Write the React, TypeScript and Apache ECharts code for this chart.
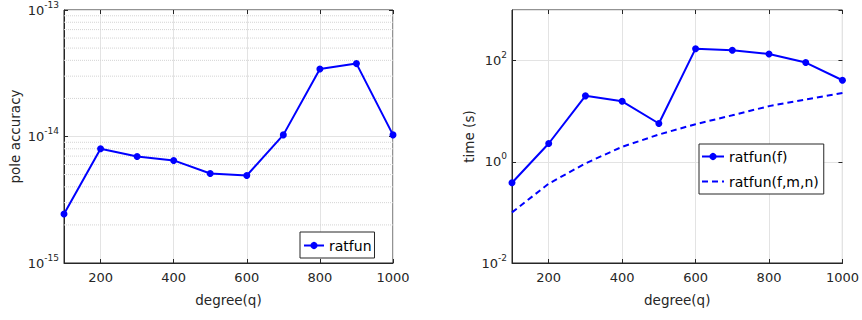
import React, { useEffect, useRef } from 'react';
import * as echarts from 'echarts';

// ---- data ----
const degrees = [100, 200, 300, 400, 500, 600, 700, 800, 900, 1000];
const poleAccuracy = [2.44e-15, 8.0e-15, 6.95e-15, 6.47e-15, 5.1e-15, 4.92e-15, 1.03e-14, 3.42e-14, 3.77e-14, 1.03e-14];
const timeRatfunF = [0.385, 2.3, 20.1, 15.7, 5.71, 172, 160, 135, 91.5, 40.9];
const timeRatfunFmn = [0.1, 0.37, 0.93, 1.98, 3.46, 5.54, 8.3, 12.6, 17, 23];
const xTickValues = [200, 400, 600, 800, 1000];
const leftMinorGrid = [2e-15, 3e-15, 4e-15, 5e-15, 6e-15, 7e-15, 8e-15, 9e-15, 2e-14, 3e-14, 4e-14, 5e-14, 6e-14, 7e-14, 8e-14, 9e-14];

const FONT = 'DejaVu Sans';
const TXT = '#262626';
const AX = '#262626';
const GRID = '#e3e3e3';
const BLUE = '#0000ff';

const zip = (xs: number[], ys: number[]) => xs.map((x, i) => [x, ys[i]]);

const powLabel = (v: number) => {
  const e = Math.round(Math.log10(v));
  return `{b|10}{s|${e}}`;
};
const richPow = {
  b: { fontSize: 13, fontFamily: FONT, color: TXT, lineHeight: 20 },
  s: { fontSize: 9, fontFamily: FONT, color: TXT, lineHeight: 9, verticalAlign: 'top' },
};

const nameStyle = { fontSize: 13.5, fontFamily: FONT, color: TXT };

function xAxisMain(gridIndex: number) {
  return {
    type: 'value', gridIndex, min: 100, max: 1000, position: 'bottom',
    name: 'degree(q)', nameLocation: 'middle', nameGap: 30, nameTextStyle: nameStyle,
    axisLine: { show: true, onZero: false, lineStyle: { color: AX, width: 1 } },
    axisTick: { show: true, inside: true, length: 4, customValues: xTickValues, lineStyle: { color: AX } },
    axisLabel: { customValues: xTickValues, color: TXT, fontSize: 13, fontFamily: FONT, margin: 8, formatter: (v: number) => String(v) },
    splitLine: { show: true, lineStyle: { color: GRID, width: 1 } },
  };
}
function xAxisTop(gridIndex: number) {
  return {
    type: 'value', gridIndex, min: 100, max: 1000, position: 'top',
    axisLine: { show: false, onZero: false },
    axisTick: { show: true, inside: true, length: 4, customValues: xTickValues, lineStyle: { color: AX } },
    axisLabel: { show: false },
    splitLine: { show: false },
  };
}

// minor grid lines on the left log axis, drawn as a broken line through the axes' scales
const minorGridData: any[] = [];
leftMinorGrid.forEach((v) => {
  minorGridData.push([100, v], [1000, v], [1000, '-']);
});

export default function App() {
  const ref = useRef<HTMLDivElement>(null);
  useEffect(() => {
    document.body.style.margin = '0';
    const chart = echarts.init(ref.current!, null, { renderer: 'svg' });
    const legendText = { fontSize: 14, fontFamily: FONT, color: '#000', lineHeight: 17 };
    const option: any = {
      animation: false,
      backgroundColor: '#fff',
      grid: [
        { left: 64, top: 10, width: 329, height: 253, show: true, borderColor: AX, borderWidth: 1, backgroundColor: 'transparent' },
        { left: 512, top: 10, width: 336, height: 253, show: true, borderColor: AX, borderWidth: 1, backgroundColor: 'transparent' },
      ],
      xAxis: [xAxisMain(0), xAxisMain(1), xAxisTop(0), xAxisTop(1)],
      yAxis: [
        {
          type: 'log', logBase: 10, gridIndex: 0, min: 1e-15, max: 1e-13, interval: 1,
          name: 'pole accuracy', nameLocation: 'middle', nameGap: 42, nameTextStyle: nameStyle,
          axisLine: { show: true, lineStyle: { color: AX } },
          axisTick: { show: true, inside: true, length: 4, lineStyle: { color: AX } },
          axisLabel: { formatter: powLabel, rich: richPow, margin: 5 },
          splitLine: { show: true, lineStyle: { color: GRID } },
        },
        {
          type: 'log', logBase: 10, gridIndex: 1, min: 1e-2, max: 1e3, interval: 2,
          name: 'time (s)', nameLocation: 'middle', nameGap: 36, nameTextStyle: nameStyle,
          axisLine: { show: true, lineStyle: { color: AX } },
          axisTick: { show: true, inside: true, length: 4, lineStyle: { color: AX } },
          axisLabel: { formatter: powLabel, rich: richPow, margin: 5, showMaxLabel: false },
          splitLine: { show: true, lineStyle: { color: GRID } },
        },
        {
          type: 'log', logBase: 10, gridIndex: 0, min: 1e-15, max: 1e-13, interval: 1, position: 'right',
          axisLine: { show: false }, axisLabel: { show: false }, splitLine: { show: false },
          axisTick: { show: true, inside: true, length: 4, lineStyle: { color: AX } },
        },
        {
          type: 'log', logBase: 10, gridIndex: 1, min: 1e-2, max: 1e3, interval: 2, position: 'right',
          axisLine: { show: false }, axisLabel: { show: false }, splitLine: { show: false },
          axisTick: { show: true, inside: true, length: 4, lineStyle: { color: AX } },
        },
      ],
      legend: [
        {
          data: ['ratfun'], left: 300, top: 232, orient: 'vertical',
          backgroundColor: '#fff', borderColor: AX, borderWidth: 1, borderRadius: 0,
          padding: [5, 3, 4, 3], itemWidth: 20, itemHeight: 9,
          textStyle: legendText,
        },
        {
          data: ['ratfun(f)', { name: 'ratfun(f,m,n)', itemStyle: { opacity: 0 } }], left: 699, top: 144, orient: 'vertical',
          backgroundColor: '#fff', borderColor: AX, borderWidth: 1, borderRadius: 0,
          padding: [4, 5, 4, 2], itemWidth: 22, itemHeight: 9, itemGap: 8,
          textStyle: legendText,
        },
      ],
      series: [
        {
          name: '_minorgrid', type: 'line', xAxisIndex: 0, yAxisIndex: 0, data: minorGridData,
          symbol: 'none', silent: true, z: 1, connectNulls: false,
          lineStyle: { type: 'dotted', color: '#d4d4d4', width: 1 },
          emphasis: { disabled: true }, tooltip: { show: false },
        },
        {
          name: 'ratfun', type: 'line', xAxisIndex: 0, yAxisIndex: 0, data: zip(degrees, poleAccuracy),
          color: BLUE, lineStyle: { width: 2, color: BLUE }, itemStyle: { color: BLUE },
          symbol: 'circle', symbolSize: 7, z: 3,
        },
        {
          name: 'ratfun(f)', type: 'line', xAxisIndex: 1, yAxisIndex: 1, data: zip(degrees, timeRatfunF),
          color: BLUE, lineStyle: { width: 2, color: BLUE }, itemStyle: { color: BLUE },
          symbol: 'circle', symbolSize: 7, z: 3,
        },
        {
          name: 'ratfun(f,m,n)', type: 'line', xAxisIndex: 1, yAxisIndex: 1, data: zip(degrees, timeRatfunFmn),
          color: BLUE, lineStyle: { width: 2, color: BLUE, type: [6, 4] }, itemStyle: { color: BLUE },
          symbol: 'none', showSymbol: false, z: 3,
        },
      ],
    };
    chart.setOption(option);
    return () => chart.dispose();
  }, []);
  return <div ref={ref} style={{ width: 862, height: 320 }} />;
}
